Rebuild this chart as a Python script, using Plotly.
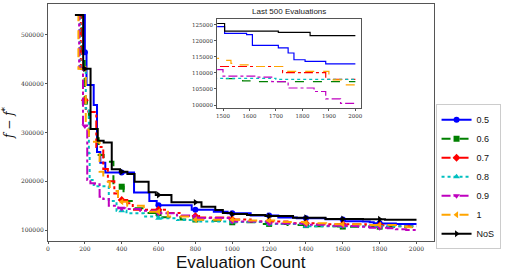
import numpy as np
import plotly.graph_objects as go

# ---------------- data (step "best-so-far" curves) ----------------
series_names = ["0.5", "0.6", "0.7", "0.8", "0.9", "1", "NoS"]

evals_05 = [150, 200, 209, 248, 266, 284, 311, 467, 550, 590, 780, 900, 975, 1100, 1250, 1350,
            1506, 1589, 1611, 1709, 1746, 1768, 1810, 1888, 2000]
vals_05 = [540000, 464000, 397000, 356000, 260000, 238000, 218000, 177000, 160000, 151000, 142000,
           138000, 134500, 130000, 126000, 124400, 122300, 121900, 118600, 117800, 116200, 114100,
           113600, 112800, 112800]

evals_06 = [150, 182, 199, 222, 275, 302, 355, 410, 470, 530, 620, 720, 850, 1000, 1150, 1300,
            1450, 1574, 1629, 2000]
vals_06 = [540000, 466000, 363000, 288000, 253700, 240000, 189000, 160000, 145000, 135000, 126500,
           122000, 119500, 116300, 113000, 110500, 108200, 107500, 107300, 107300]

evals_07 = [150, 178, 190, 205, 225, 262, 300, 325, 360, 380, 430, 460, 650, 720, 820, 1000, 1100,
            1300, 1450, 1725, 1888, 2000]
vals_07 = [540000, 430000, 366000, 343000, 342000, 270000, 225000, 200000, 175000, 161800, 155000,
           142000, 135000, 129000, 126000, 122000, 118000, 114500, 112000, 110100, 108000, 108000]

evals_08 = [150, 172, 205, 222, 226, 248, 330, 372, 426, 520, 600, 700, 820, 1000, 1200, 1400,
            1700, 2000]
vals_08 = [540000, 430000, 349000, 257000, 202600, 190000, 160000, 140000, 134700, 128000, 124500,
           121000, 118000, 117000, 113000, 108300, 108000, 108000]

evals_09 = [150, 169, 190, 213, 230, 255, 280, 300, 330, 381, 420, 500, 600, 700, 800, 1000, 1200,
            1400, 1500, 1620, 1684, 1746, 1844, 1888, 1944, 2000]
vals_09 = [540000, 431000, 313000, 202600, 196000, 194000, 168600, 163900, 150000, 145000, 143500,
           140000, 134700, 130000, 125000, 118000, 114000, 111000, 109000, 108700, 107300, 105300,
           104200, 101900, 100500, 100500]

evals_1 = [150, 165, 205, 222, 280, 300, 335, 380, 430, 520, 650, 780, 1050, 1250, 1400, 1510,
           1530, 1560, 1600, 1728, 1900, 1947, 2000]
vals_1 = [540000, 430000, 306000, 281000, 219600, 199000, 180000, 158000, 150000, 138000, 128000,
          121700, 120000, 117000, 114500, 113900, 113000, 112500, 112000, 110500, 107800, 106300,
          106300]

evals_nos = [146, 191, 231, 270, 302, 346, 390, 431, 470, 546, 585, 670, 833, 908, 949, 993, 1080,
             1180, 1330, 1506, 1709, 1829, 2000]
vals_nos = [540000, 430000, 307000, 283000, 279600, 224500, 219600, 215000, 199000, 177500, 172000,
            157000, 148000, 141400, 135300, 133000, 131000, 129000, 125400, 123000, 122600, 121600,
            121600]

marker_evals = [200, 400, 600, 800, 1000, 1200, 1400, 1600, 1800]

main_x_ticks = [0, 200, 400, 600, 800, 1000, 1200, 1400, 1600, 1800, 2000]
main_y_ticks = [100000, 200000, 300000, 400000, 500000]
inset_x_ticks = [1500, 1600, 1700, 1800, 1900, 2000]
inset_y_ticks = [100000, 105000, 110000, 115000, 120000, 125000]

all_evals = [evals_05, evals_06, evals_07, evals_08, evals_09, evals_1, evals_nos]
all_vals = [vals_05, vals_06, vals_07, vals_08, vals_09, vals_1, vals_nos]

# ---------------- styles ----------------
colors = ["#0000ff", "#008000", "#ff0000", "#00bfbf", "#bf00bf", "#ffa500", "#000000"]
dashes = ["solid", "dash", "dashdot", "dot", "dashdot", "dash", "solid"]
symbols = ["circle", "square", "diamond", "triangle-up", "triangle-down", "triangle-left",
           "triangle-right"]

fig = go.Figure()

for name, ev, va, c, d, s in zip(series_names, all_evals, all_vals, colors, dashes, symbols):
    ev_a = np.array(ev)
    va_a = np.array(va)
    fig.add_trace(go.Scatter(x=ev_a, y=va_a, mode="lines", line=dict(color=c, dash=d, width=2,
                             shape="hv"), showlegend=False, hoverinfo="skip",
                             xaxis="x", yaxis="y"))
    idx = np.searchsorted(ev_a, marker_evals, side="right") - 1
    fig.add_trace(go.Scatter(x=marker_evals, y=va_a[idx], mode="markers",
                             marker=dict(color=c, symbol=s, size=6), showlegend=False,
                             hoverinfo="skip", xaxis="x", yaxis="y"))
    fig.add_trace(go.Scatter(x=ev_a, y=va_a, mode="lines", line=dict(color=c, dash=d, width=1.2,
                             shape="hv"), showlegend=False, hoverinfo="skip",
                             xaxis="x2", yaxis="y2"))
    fig.add_trace(go.Scatter(x=[None], y=[None], mode="lines+markers", name=name,
                             line=dict(color=c, dash=d, width=2),
                             marker=dict(color=c, symbol=s, size=6),
                             xaxis="x", yaxis="y"))

axis_line = "#555555"
serif = "DejaVu Serif, Liberation Serif, serif"
sans = "Liberation Sans, Arial, sans-serif"

fig.update_layout(
    width=505, height=275,
    margin=dict(l=48, r=63, t=4, b=34),
    paper_bgcolor="white", plot_bgcolor="white",
    xaxis=dict(domain=[0, 1], range=[0, 2095], tickvals=main_x_ticks, tickformat="d",
               ticks="outside", ticklen=2, tickcolor=axis_line,
               showgrid=False, zeroline=False, showline=True, linecolor=axis_line, linewidth=1,
               mirror=True, tickfont=dict(family=serif, size=6, color="#333")),
    yaxis=dict(domain=[0, 1], range=[78000, 562600], tickvals=main_y_ticks, tickformat="d",
               ticks="outside", ticklen=2, tickcolor=axis_line,
               showgrid=False, zeroline=False, showline=True, linecolor=axis_line, linewidth=1,
               mirror=True, tickfont=dict(family=serif, size=6, color="#333"),
               title=dict(text="<i>f</i> − <i>f</i><sup>*</sup>",
                          font=dict(family=serif, size=12, color="#111"), standoff=6)),
    xaxis2=dict(domain=[0.4383, 0.8114], anchor="y2", range=[1478, 2022], tickvals=inset_x_ticks,
                tickformat="d", ticks="outside", ticklen=2, tickcolor=axis_line,
                showgrid=False, zeroline=False, showline=True, linecolor=axis_line, linewidth=1,
                mirror=True, tickfont=dict(family=serif, size=5.5, color="#333")),
    yaxis2=dict(domain=[0.5599, 0.9354], anchor="x2", range=[98970, 126700], tickvals=inset_y_ticks,
                tickformat="d", ticks="outside", ticklen=2, tickcolor=axis_line,
                showgrid=False, zeroline=False, showline=True, linecolor=axis_line, linewidth=1,
                mirror=True, tickfont=dict(family=serif, size=5.5, color="#333")),
    legend=dict(x=1.004, xanchor="left", y=0.271, yanchor="middle",
                bgcolor="white", bordercolor="#cccccc", borderwidth=1,
                font=dict(family=sans, size=9, color="#111"),
                itemwidth=30, tracegroupgap=0),
    annotations=[
        dict(text="Last 500 Evaluations", x=0.6248, y=0.9354, xref="paper", yref="paper",
             xanchor="center", yanchor="bottom", showarrow=False, yshift=1,
             font=dict(family=sans, size=8, color="#222")),
        dict(text="Evaluation Count", x=0.5, y=0, xref="paper", yref="paper",
             xanchor="center", yanchor="middle", showarrow=False, yshift=-21,
             font=dict(family=sans, size=17, color="#111")),
    ],
)

fig.write_html("out.html", config={"displayModeBar": False},
               post_script="document.body.style.margin='0px';")
